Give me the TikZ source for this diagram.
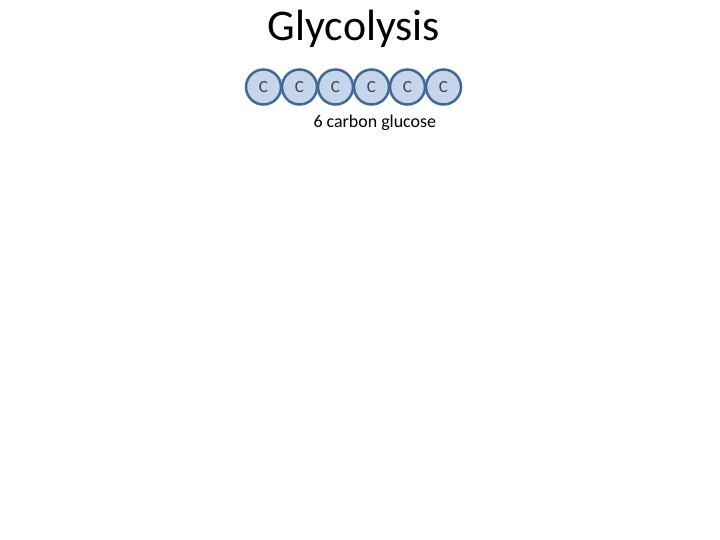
\documentclass[tikz,border=0pt]{standalone}
\usepackage{fontspec}
\setmainfont{Carlito}
\usepackage{tikz}
\definecolor{atomfill}{RGB}{197,213,236}
\definecolor{atomline}{RGB}{65,104,150}
\tikzset{atom/.style={circle,draw=atomline,fill=atomfill,line width=2.5bp,
    minimum size=35bp,inner sep=0pt,font=\fontsize{17}{17}\selectfont,text=black!75}}

\begin{document}
\begin{tikzpicture}[x=1bp,y=-1bp]
      \useasboundingbox (0,0) rectangle (720,540);
      \node[font=\fontsize{44}{44}\selectfont] (title) at (354,29) {Glycolysis};
      \foreach \i in {1,...,6}
        \node[atom] (c\i) at ({263.5+36*(\i-1)},87) {C};
      \node[font=\fontsize{18}{18}\selectfont,anchor=west] (label) at (310,123) {6 carbon glucose};
    \end{tikzpicture}
\end{document}
